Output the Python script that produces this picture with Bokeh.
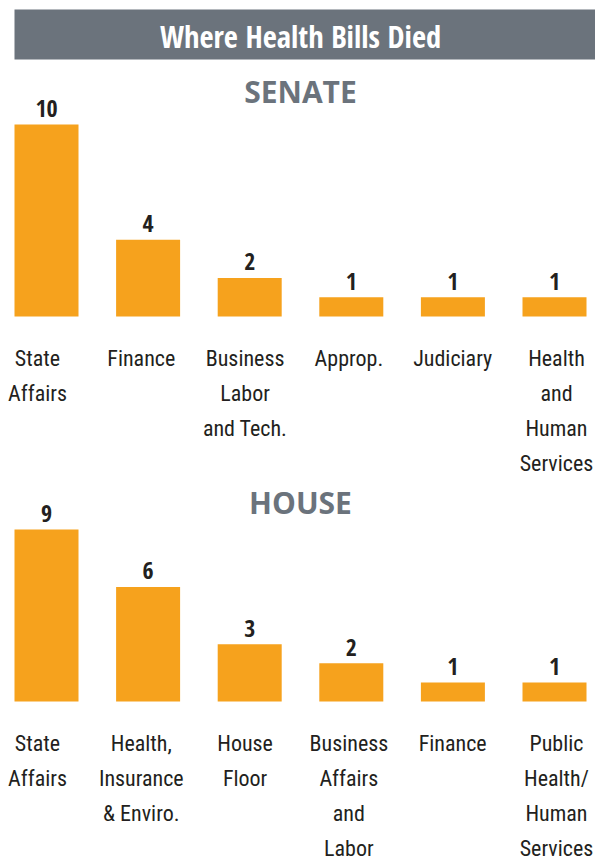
from bokeh.plotting import figure
from bokeh.layouts import column
from bokeh.models import Range1d, ColumnDataSource
from bokeh.core.properties import value
from bokeh.embed import file_html
from bokeh.resources import INLINE

# ---- data ----
chart_title = "Where Health Bills Died"
senate_heading = "SENATE"
house_heading = "HOUSE"

senate_committees = ["State\nAffairs", "Finance", "Business\nLabor\nand Tech.",
                     "Approp.", "Judiciary", "Health\nand\nHuman\nServices"]
senate_bills = [10, 4, 2, 1, 1, 1]

house_committees = ["State\nAffairs", "Health,\nInsurance\n& Enviro.", "House\nFloor",
                    "Business\nAffairs\nand\nLabor", "Finance", "Public\nHealth/\nHuman\nServices"]
house_bills = [9, 6, 3, 2, 1, 1]

# ---- style ----
ORANGE = "#F6A21D"
GRAY = "#6B737C"
DARK = "#231F20"
COND_BOLD = "Open Sans Condensed"
COND = "Roboto Condensed"
HEAD = "Open Sans"
W = 595
PX_PER_SLOT = 101.6
FIRST_CENTER = 46.0
LABEL_SLOT = 103.8
LABEL_FIRST = 37.0
LABEL_SIZE = 22
LINE_H = 1.40
BASE_FIX = 0.38  # alphabetic-baseline correction, in em

x_start = -FIRST_CENTER / PX_PER_SLOT
x_end = x_start + W / PX_PER_SLOT


def xdata(px):
    return (px - FIRST_CENTER) / PX_PER_SLOT


def panel(height, base_px, unit_px, committees, bills, heading, heading_base_px,
          label_top_px, title=None):
    y_range = Range1d(-(height - base_px) / unit_px, base_px / unit_px)
    p = figure(width=W, height=height, x_range=Range1d(x_start, x_end), y_range=y_range,
               toolbar_location=None, output_backend="svg", min_border=0,
               x_axis_location=None, y_axis_location=None, outline_line_color=None,
               background_fill_color="white", border_fill_color="white")
    p.grid.visible = False

    def ydata(px):
        return (base_px - px) / unit_px

    if title is not None:
        p.quad(left=[xdata(14)], right=[x_end + 1],
               top=[ydata(9)], bottom=[ydata(59)], fill_color=GRAY, line_color=None)
        p.text(x=[xdata(300)], y=[ydata(47 - BASE_FIX * 30.5)], text=[title],
               text_align="center", text_baseline="alphabetic", text_color="white",
               text_font=value(COND_BOLD), text_font_size="30.5px", text_font_style="bold")

    p.text(x=[xdata(300)], y=[ydata(heading_base_px - BASE_FIX * 30)], text=[heading],
           text_align="center", text_baseline="alphabetic", text_color=GRAY,
           text_font=value(HEAD), text_font_size="30px", text_font_style="bold")

    n = len(bills)
    src = ColumnDataSource(dict(
        x=list(range(n)),
        v=bills,
        vlab=[str(b) for b in bills],
        vy=[b + (7.0 + BASE_FIX * 24) / unit_px for b in bills],
        name=committees,
        lx=[xdata(LABEL_FIRST + LABEL_SLOT * i) for i in range(n)],
        ly=[ydata(label_top_px)] * n,
    ))
    p.vbar(x="x", top="v", bottom=0, width=64 / PX_PER_SLOT, source=src,
           fill_color=ORANGE, line_color=None)
    p.text(x="x", y="vy", text="vlab", source=src, text_align="center",
           text_baseline="alphabetic", text_color=DARK, text_font=value(COND_BOLD),
           text_font_size="24px", text_font_style="bold")
    p.text(x="lx", y="ly", text="name", source=src, text_align="center",
           text_baseline="top", text_color=DARK, text_font=value(COND),
           text_font_size=f"{LABEL_SIZE}px", text_line_height=LINE_H)
    return p


p1 = panel(478, 316, 19.2, senate_committees, senate_bills, senate_heading, 102,
           345, title=chart_title)
p2 = panel(384, 223, 19.1, house_committees, house_bills, house_heading, 35,
           252)

layout = column(p1, p2, spacing=0)
open("out.html", "w").write(file_html(layout, INLINE))
